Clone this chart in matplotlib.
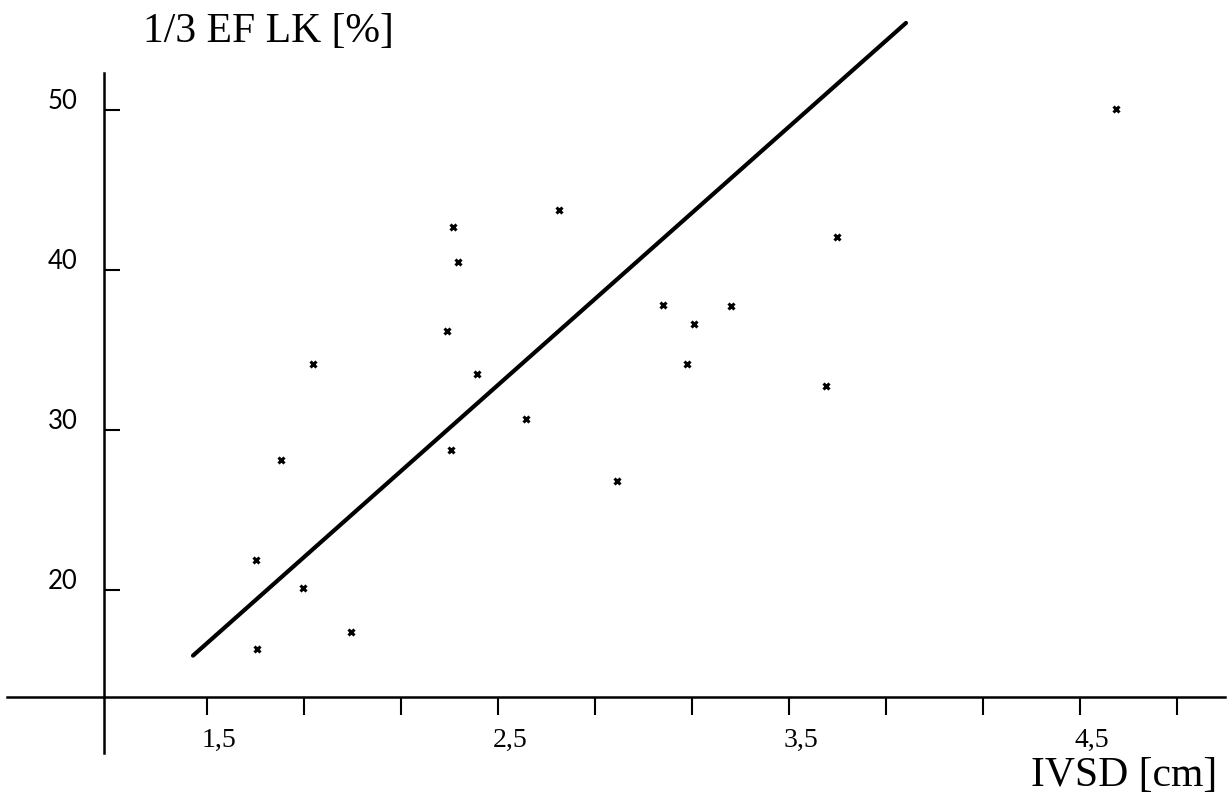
import matplotlib
matplotlib.use("Agg")
import matplotlib.pyplot as plt
from matplotlib.transforms import ScaledTranslation

# values
ivsd = [1.668, 1.672, 1.754, 1.830, 1.864, 1.995, 2.325, 2.340, 2.345, 2.363, 2.428,
        2.596, 2.710, 2.909, 3.067, 3.149, 3.174, 3.301, 3.627, 3.665, 4.624]
ef_lk = [21.9, 16.3, 28.1, 20.1, 34.1, 17.4, 36.2, 28.75, 42.7, 40.5, 33.5,
         30.7, 43.75, 26.8, 37.8, 34.1, 36.6, 37.75, 32.75, 42.05, 50.05]

fit_x = [1.452, 3.902]
fit_y = [15.9, 55.44]

x_major = [1.5, 2.5, 3.5, 4.5]
x_labels = ["1,5", "2,5", "3,5", "4,5"]
x_minor = [1.5 + k / 3 for k in range(11)]
y_ticks = [20, 30, 40, 50]
y_labels = ["20", "30", "40", "50"]

fig = plt.figure(figsize=(12.3, 7.98), dpi=100)
ax = fig.add_axes([0, 0, 1, 1])
ax.set_xlim(0.7887, 5.0155)
ax.set_ylim(7.0, 56.875)

ax.plot(fit_x, fit_y, color="black", lw=3.0, solid_capstyle="round")
ax.plot(ivsd, ef_lk, ls="none", marker="x", ms=4, mew=2.2, color="black")

for s in ["top", "right"]:
    ax.spines[s].set_visible(False)
ax.spines["left"].set_position(("data", 1.146))
ax.spines["left"].set_bounds(9.8, 52.3)
ax.spines["bottom"].set_position(("data", 13.31))
ax.spines["bottom"].set_bounds(0.813, 5.0)
ax.spines["left"].set_linewidth(1.8)
ax.spines["bottom"].set_linewidth(1.8)

ax.set_xticks(x_major)
ax.set_xticklabels(x_labels, family="Liberation Serif", fontsize=20)
ax.set_xticks([v for v in x_minor if v not in x_major], minor=True)
ax.tick_params(axis="x", which="both", direction="out", length=13, width=1.5, pad=9)

ax.set_yticks(y_ticks)
ax.set_yticklabels(y_labels, family="Lato", fontsize=18.5)
ax.tick_params(axis="y", direction="in", length=11.5, width=1.5, pad=19)

dx = ScaledTranslation(12 / 100, 0, fig.dpi_scale_trans)
for lab in ax.get_xticklabels():
    lab.set_transform(lab.get_transform() + dx)
dy = ScaledTranslation(0, 11 / 100, fig.dpi_scale_trans)
for lab in ax.get_yticklabels():
    lab.set_transform(lab.get_transform() + dy)

fig.text(143 / 1230, 1 - 42 / 798, "1/3 EF LK [%]", family="Liberation Serif",
         fontsize=30, ha="left", va="baseline")
fig.text(1217 / 1230, 1 - 786 / 798, "IVSD [cm]", family="Liberation Serif",
         fontsize=30, ha="right", va="baseline")

fig.savefig("out.png", dpi=100)
